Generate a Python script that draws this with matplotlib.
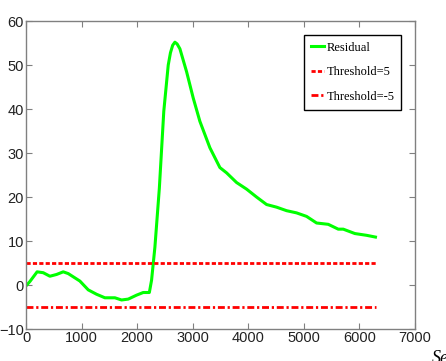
import matplotlib
matplotlib.use("Agg")
import matplotlib.pyplot as plt
import numpy as np

# residual curve (seconds, value)
t_sec = [0, 70, 200, 310, 430, 550, 670, 760, 970, 1120, 1270, 1420, 1600, 1720,
         1840, 1990, 2110, 2220, 2260, 2320, 2400, 2480, 2560, 2600, 2640, 2680, 2720,
         2770, 2890, 3010, 3130, 3310, 3490, 3610, 3790, 3970, 4150, 4330, 4510, 4690,
         4870, 5050, 5230, 5440, 5620, 5710, 5920, 6130, 6290]
residual = [-0.2, 0.8, 3.0, 2.8, 2.0, 2.4, 3.0, 2.6, 0.9, -1.1, -2.1, -2.9, -2.9, -3.4,
            -3.2, -2.3, -1.7, -1.7, 1.1, 8.6, 22.0, 39.5, 50.0, 52.8, 54.5, 55.2, 54.8,
            53.7, 48.5, 42.5, 37.2, 31.2, 26.7, 25.5, 23.3, 21.8, 20.0, 18.3, 17.7, 16.9,
            16.4, 15.6, 14.1, 13.8, 12.7, 12.7, 11.7, 11.3, 10.9]
thr_x = [0, 6300]
thr_hi = 5
thr_lo = -5

fig = plt.figure(figsize=(4.46, 3.61), dpi=100)
ax = fig.add_axes([0.0583, 0.0886, 0.872, 0.853])

ax.plot(t_sec, residual, color='#00ff00', lw=2.2, label='Residual')
ax.plot(thr_x, [thr_hi, thr_hi], color='red', lw=2, dashes=(1.5, 0.8), label='Threshold=5')
ax.plot(thr_x, [thr_lo, thr_lo], color='red', lw=2, dashes=(2.5, 1, 0.8, 1), label='Threshold=-5')

ax.set_xlim(0, 7000)
ax.set_ylim(-10, 60)
ax.set_xticks(range(0, 7001, 1000))
ax.set_yticks(range(-10, 61, 10))

for lab in ax.get_xticklabels() + ax.get_yticklabels():
    lab.set_family('Liberation Sans')
    lab.set_fontsize(10.5)
    lab.set_color('#222222')
ax.tick_params(direction='in', length=4, top=True, right=True, pad=1.5, color='#808080')
for s in ax.spines.values():
    s.set_color('#808080')
    s.set_linewidth(1)

leg = ax.legend(loc='upper right', prop={'family': 'Liberation Serif', 'size': 9},
                fancybox=False, framealpha=1, edgecolor='black', borderaxespad=1.1,
                handlelength=1.1, handletextpad=0.15, labelspacing=1.0,
                borderpad=0.55)
leg.get_frame().set_linewidth(1)

fig.text(432/446, 1-350/361, 'Seconds', ha='left', va='top', fontsize=13,
         family='Liberation Serif', style='italic')

fig.savefig('out.png', dpi=100)
